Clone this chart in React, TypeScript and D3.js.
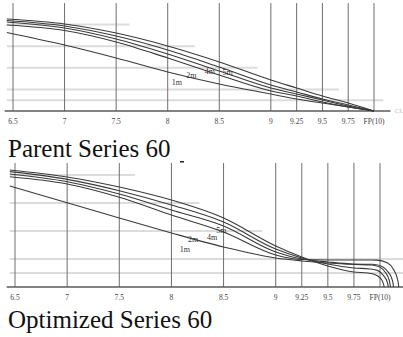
import * as d3 from "d3";

// stations along the ship (FP = 10)
const stations = [6.5, 7, 7.5, 8, 8.5, 9, 9.25, 9.5, 9.75, 10];
const tickLabels = ["6.5", "7", "7.5", "8", "8.5", "9", "9.25", "9.5", "9.75", "FP(10)"];

// waterline levels (gray strips) and where each one stops
const waterlines = [80, 60, 40, 20, 10];
const parentWaterlineEnds = [7.63, 8.26, 8.87, 9.66, 10.09];
const optimizedWaterlineEnds = [7.65, 8.27, 8.87, 10.3, 10.3];

// Parent Series 60 curves: [station, value]
const parent5m = [[6.44, 85.2], [7, 80.6], [7.5, 72.2], [8, 60.2], [8.5, 45.4], [9, 28.7], [9.25, 21.3], [9.5, 13.9], [9.75, 7.4], [10, 0]];
const parent4m = [[6.44, 83.8], [7, 78.7], [7.5, 69.4], [8, 56.5], [8.5, 40.7], [9, 24.1], [9.25, 17.6], [9.5, 11.1], [9.75, 5.6], [10, 0]];
const parent3m = [[6.44, 82.4], [7, 76.9], [7.5, 66.7], [8, 52.8], [8.5, 37.0], [9, 21.3], [9.25, 15.7], [9.5, 10.2], [9.75, 4.6], [10, 0]];
const parent2m = [[6.44, 79.6], [7, 74.5], [7.5, 63.9], [8, 49.1], [8.5, 33.3], [9, 18.5], [9.25, 13.9], [9.5, 8.3], [9.75, 3.7], [10, 0]];
const parent1m = [[6.44, 72.7], [7, 61.1], [7.5, 49.1], [8, 36.1], [8.5, 25.0], [9, 15.7], [9.25, 11.1], [9.5, 7.4], [9.75, 3.7], [10, 0]];

// Optimized Series 60 curves
const opt5m = [[6.45, 83.6], [7, 78.6], [7.5, 71.4], [8, 62.1], [8.5, 49.3], [9, 29.3], [9.25, 21.4], [9.5, 15], [9.75, 10.7], [9.88, 10], [9.95, 9], [10, 6.5], [10.03, 3], [10.04, 0]];
const opt4m = [[6.45, 82.4], [7, 76.9], [7.5, 68.8], [8, 58.6], [8.5, 46.4], [9, 27.1], [9.25, 20.7], [9.5, 16.4], [9.75, 13.6], [9.9, 12.9], [9.98, 11.7], [10.03, 8.5], [10.07, 3.5], [10.08, 0]];
const opt3m = [[6.45, 80.7], [7, 75.2], [7.5, 66.4], [8, 55], [8.5, 43.6], [9, 25], [9.25, 20], [9.5, 17.9], [9.75, 16.4], [9.93, 16.2], [10.02, 14.6], [10.08, 10.5], [10.12, 4.5], [10.13, 0]];
const opt2m = [[6.45, 78.8], [7, 73.6], [7.5, 64.1], [8, 51.4], [8.5, 39.3], [9, 22.9], [9.25, 19.6], [9.5, 19.3], [9.75, 19.3], [9.97, 19.2], [10.07, 17.3], [10.13, 12.5], [10.17, 5], [10.18, 0]];
const opt1m = [[6.45, 72.1], [7, 60.2], [7.5, 49.3], [8, 38.6], [8.5, 28.6], [9, 20.7], [9.25, 18.6], [9.5, 17.1], [9.75, 16.1], [9.92, 15.7], [10.0, 14.2], [10.05, 10.5], [10.09, 4.5], [10.1, 0]];

const curveLabels = ["1m", "2m", "4m", "5m"];
const parentLabelPos = [[8.04, 24.1], [8.18, 30.6], [8.36, 34.3], [8.53, 33.3]];
const optLabelPos = [[8.08, 25], [8.16, 32.1], [8.34, 33.6], [8.43, 38.6]];

function Panel({ x0, x1, base, yTop, gridTop, curves, wlEnds, wlStart, labelPos, showCL }) {
  const x = d3.scaleLinear().domain([6.5, 10]).range([x0, x1]);
  const y = d3.scaleLinear().domain([0, 100]).range([base, yTop]);
  const line = d3
    .line()
    .x((d) => x(d[0]))
    .y((d) => y(d[1]))
    .curve(d3.curveMonotoneX);

  return (
    <g>
      {/* waterline strips */}
      {waterlines.map((w, i) => (
        <line
          key={"w" + i}
          x1={x(wlStart)}
          x2={x(wlEnds[i])}
          y1={y(w)}
          y2={y(w)}
          stroke="#dcdcdc"
          strokeWidth={2}
        />
      ))}
      {/* station lines */}
      {stations.map((s, i) => (
        <line
          key={"s" + i}
          x1={x(s)}
          x2={x(s)}
          y1={y(0)}
          y2={y(gridTop)}
          stroke="#6e6e6e"
          strokeWidth={1}
        />
      ))}
      {/* base line */}
      <line
        x1={x(6.42)}
        x2={x(showCL ? 10.16 : 10.3)}
        y1={y(0)}
        y2={y(0)}
        stroke="#5a5a5a"
        strokeWidth={1.5}
      />
      {showCL && (
        <text x={x(10.2)} y={y(0) + 2} fontSize="7" fill="#c0c0c0" fontFamily="Liberation Serif">
          CL
        </text>
      )}
      {stations.map((s, i) => (
        <text
          key={"t" + i}
          x={x(s)}
          y={y(0) + 13}
          textAnchor="middle"
          fontSize="7.5"
          fill="#444"
          fontFamily="Liberation Serif"
        >
          {tickLabels[i]}
        </text>
      ))}
      {curves.map((c, i) => (
        <path key={"c" + i} d={line(c)} fill="none" stroke="#3a3a3a" strokeWidth={1.1} />
      ))}
      {curveLabels.map((l, i) => (
        <text
          key={"l" + i}
          x={x(labelPos[i][0])}
          y={y(labelPos[i][1])}
          fontSize="8"
          fill="#333"
          fontFamily="Liberation Serif"
        >
          {l}
        </text>
      ))}
    </g>
  );
}

export default function App() {
  return (
    <div style={{ position: "absolute", left: 0, top: 0 }}>
      <svg width={403} height={337} style={{ display: "block", background: "#fff" }}>
        <Panel
          x0={13}
          x1={374}
          base={111}
          yTop={3}
          gridTop={100}
          curves={[parent5m, parent4m, parent3m, parent2m, parent1m]}
          wlEnds={parentWaterlineEnds}
          wlStart={6.44}
          labelPos={parentLabelPos}
          showCL={true}
        />
        <text x={8} y={157} fontSize="25" fontFamily="Liberation Serif" fill="#111">
          Parent Series 60
        </text>
        <rect x={180} y={161} width={4} height={1.5} fill="#222" />
        <Panel
          x0={15}
          x1={380}
          base={287}
          yTop={147}
          gridTop={88.6}
          curves={[opt5m, opt4m, opt3m, opt2m, opt1m]}
          wlEnds={optimizedWaterlineEnds}
          wlStart={6.45}
          labelPos={optLabelPos}
          showCL={false}
        />
        <text x={8} y={328} fontSize="25" fontFamily="Liberation Serif" fill="#111">
          Optimized Series 60
        </text>
      </svg>
    </div>
  );
}
